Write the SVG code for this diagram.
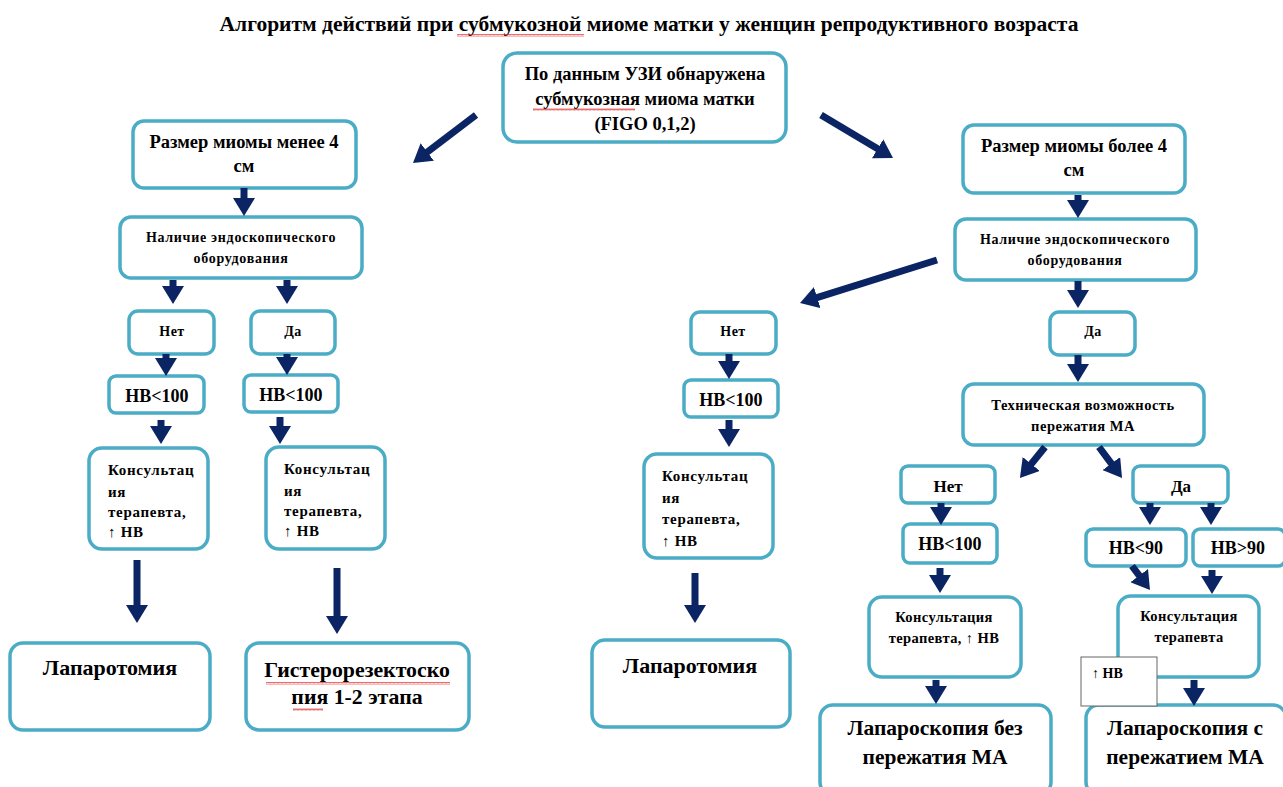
<svg xmlns="http://www.w3.org/2000/svg" width="1283" height="787" viewBox="0 0 1283 787">
<style>
.b{fill:#fff;stroke:#4BACC6;stroke-width:3.5}
.t{font-family:"Liberation Serif","Times New Roman",serif;font-weight:bold;fill:#000}
.c{text-anchor:middle}
.a{stroke:#0B2463;stroke-width:7;fill:none}
</style>
<defs>
<marker id="h" markerUnits="userSpaceOnUse" markerWidth="18" markerHeight="22" refX="2" refY="11" orient="auto" viewBox="0 0 18 22">
<path d="M0,0 L18,11 L0,22 Z" fill="#0B2463"/>
</marker>
<pattern id="wv" width="4" height="3" patternUnits="userSpaceOnUse">
<path d="M0,2.5 L1,0.5 L2,2.5 L3,0.5 L4,2.5" fill="none" stroke="#E03030" stroke-width="0.7"/>
</pattern>
</defs>

<text class="t c" x="649" y="31" font-size="21.5">Алгоритм действий при субмукозной миоме матки у женщин репродуктивного возраста</text>
<rect x="457" y="34" width="127" height="3" fill="url(#wv)"/>

<g id="n-top"><rect class="b" x="503" y="53" width="283" height="89" rx="14"/>
<text class="t c" font-size="18.5"><tspan x="645" y="80">По данным УЗИ обнаружена</tspan><tspan x="645" y="105">субмукозная миома матки</tspan><tspan x="645" y="130">(FIGO 0,1,2)</tspan></text>
<rect x="533" y="108" width="102" height="3" fill="url(#wv)"/></g>

<g id="n-less4"><rect class="b" x="133" y="121" width="223" height="67" rx="11"/>
<text class="t c" font-size="18.5"><tspan x="244" y="148">Размер миомы менее 4</tspan><tspan x="244" y="172">см</tspan></text></g>

<g id="n-more4"><rect class="b" x="963" y="125" width="222" height="68" rx="11"/>
<text class="t c" font-size="18.5"><tspan x="1074" y="152">Размер миомы более 4</tspan><tspan x="1074" y="176">см</tspan></text></g>

<g id="n-endo-l"><rect class="b" x="120" y="217" width="242" height="61" rx="11"/>
<text class="t c" font-size="14" letter-spacing="0.7"><tspan x="241" y="242">Наличие эндоскопического</tspan><tspan x="241" y="263">оборудования</tspan></text></g>

<g id="n-net-l"><rect class="b" x="129" y="311" width="85" height="43" rx="9"/>
<text class="t c" font-size="14" letter-spacing="0.5" x="172" y="336">Нет</text></g>
<g id="n-da-l"><rect class="b" x="251" y="311" width="84" height="43" rx="9"/>
<text class="t c" font-size="14" letter-spacing="0.5" x="293" y="336">Да</text></g>

<g id="n-hb-l1"><rect class="b" x="109" y="376" width="95" height="37" rx="7"/>
<text class="t c" font-size="18" x="157" y="402">НВ&lt;100</text></g>
<g id="n-hb-l2"><rect class="b" x="244" y="375" width="94" height="37" rx="7"/>
<text class="t c" font-size="18" x="291" y="401">НВ&lt;100</text></g>

<g id="n-cons-l1"><rect class="b" x="89" y="448" width="119" height="101" rx="13"/>
<text class="t" font-size="15" letter-spacing="0.7"><tspan x="108" y="475">Консультац</tspan><tspan x="108" y="497">ия</tspan><tspan x="108" y="517">терапевта,</tspan><tspan x="108" y="537">↑ НВ</tspan></text></g>
<g id="n-cons-l2"><rect class="b" x="266" y="447" width="119" height="102" rx="13"/>
<text class="t" font-size="15" letter-spacing="0.7"><tspan x="284" y="474">Консультац</tspan><tspan x="284" y="496">ия</tspan><tspan x="284" y="516">терапевта,</tspan><tspan x="284" y="536">↑ НВ</tspan></text></g>

<g id="n-lapt-l"><rect class="b" x="10" y="643" width="200" height="87" rx="13"/>
<text class="t c" font-size="22" x="110" y="675">Лапаротомия</text></g>
<g id="n-hyst"><rect class="b" x="246" y="643" width="223" height="87" rx="13"/>
<text class="t c" font-size="21.8"><tspan x="357" y="677">Гистерорезектоско</tspan><tspan x="357" y="704">пия 1-2 этапа</tspan></text>
<rect x="266" y="682" width="184" height="3" fill="url(#wv)"/><rect x="293" y="708" width="30" height="3" fill="url(#wv)"/></g>

<g id="n-endo-r"><rect class="b" x="955" y="219" width="241" height="61" rx="11"/>
<text class="t c" font-size="14" letter-spacing="0.7"><tspan x="1075" y="244">Наличие эндоскопического</tspan><tspan x="1075" y="265">оборудования</tspan></text></g>

<g id="n-net-m"><rect class="b" x="691" y="312" width="85" height="42" rx="9"/>
<text class="t c" font-size="14" letter-spacing="0.5" x="733" y="336">Нет</text></g>
<g id="n-hb-m"><rect class="b" x="684" y="380" width="94" height="37" rx="7"/>
<text class="t c" font-size="18" x="731" y="406">НВ&lt;100</text></g>
<g id="n-cons-m"><rect class="b" x="644" y="454" width="129" height="104" rx="13"/>
<text class="t" font-size="15" letter-spacing="0.7"><tspan x="662" y="481">Консультац</tspan><tspan x="662" y="503">ия</tspan><tspan x="662" y="524">терапевта,</tspan><tspan x="662" y="546">↑ НВ</tspan></text></g>
<g id="n-lapt-m"><rect class="b" x="592" y="640" width="198" height="87" rx="13"/>
<text class="t c" font-size="22" x="690" y="673">Лапаротомия</text></g>

<g id="n-da-r"><rect class="b" x="1050" y="312" width="85" height="43" rx="9"/>
<text class="t c" font-size="14" letter-spacing="0.5" x="1093" y="336">Да</text></g>
<g id="n-tech"><rect class="b" x="963" y="384" width="241" height="61" rx="11"/>
<text class="t c" font-size="14.5" letter-spacing="0.5"><tspan x="1083" y="410">Техническая возможность</tspan><tspan x="1083" y="431">пережатия МА</tspan></text></g>

<g id="n-net-r"><rect class="b" x="901" y="466" width="94" height="37" rx="7"/>
<text class="t c" font-size="17" x="948" y="492">Нет</text></g>
<g id="n-da-r2"><rect class="b" x="1133" y="466" width="95" height="37" rx="7"/>
<text class="t c" font-size="17" x="1181" y="492">Да</text></g>

<g id="n-hb-r1"><rect class="b" x="903" y="524" width="94" height="39" rx="7"/>
<text class="t c" font-size="18" x="950" y="550">НВ&lt;100</text></g>
<g id="n-hb90a"><rect class="b" x="1086" y="529" width="100" height="37" rx="7"/>
<text class="t c" font-size="18" x="1136" y="554">НВ&lt;90</text></g>
<g id="n-hb90b"><rect class="b" x="1193" y="529" width="92" height="37" rx="7"/>
<text class="t c" font-size="18" x="1238" y="554">НВ&gt;90</text></g>

<g id="n-cons-r1"><rect class="b" x="869" y="597" width="152" height="80" rx="13"/>
<text class="t c" font-size="14.5" letter-spacing="0.4"><tspan x="944" y="622">Консультация</tspan><tspan x="944" y="643">терапевта, ↑ НВ</tspan></text></g>
<g id="n-cons-r2"><rect class="b" x="1118" y="596" width="141" height="81" rx="13"/>
<text class="t c" font-size="14.5" letter-spacing="0.4"><tspan x="1189" y="621">Консультация</tspan><tspan x="1189" y="642">терапевта</tspan></text></g>

<g id="n-lapsc1"><rect class="b" x="820" y="705" width="231" height="90" rx="13"/>
<text class="t c" font-size="21.5"><tspan x="935" y="735">Лапароскопия без</tspan><tspan x="935" y="764">пережатия МА</tspan></text></g>
<g id="n-lapsc2"><rect class="b" x="1086" y="705" width="200" height="90" rx="13"/>
<text class="t c" font-size="21.5"><tspan x="1185" y="735">Лапароскопия с</tspan><tspan x="1185" y="764">пережатием МА</tspan></text></g>

<g id="n-hbnote"><rect x="1081" y="657" width="76" height="49" fill="#fff" stroke="#666" stroke-width="1"/>
<text class="t" font-size="14" x="1092" y="678">↑ НВ</text></g>

<g id="connectors">
<line class="a" x1="476" y1="115" x2="425.7" y2="153.3" marker-end="url(#h)"/>
<line class="a" x1="821" y1="115" x2="879.3" y2="149.8" marker-end="url(#h)"/>
<line class="a" x1="244" y1="188" x2="244" y2="200" marker-end="url(#h)"/>
<line class="a" x1="173" y1="280" x2="173" y2="288" marker-end="url(#h)"/>
<line class="a" x1="287" y1="280" x2="287" y2="288" marker-end="url(#h)"/>
<line class="a" x1="166" y1="354" x2="166" y2="360" marker-end="url(#h)"/>
<line class="a" x1="287" y1="354" x2="287" y2="359" marker-end="url(#h)"/>
<line class="a" x1="161" y1="420" x2="161" y2="428" marker-end="url(#h)"/>
<line class="a" x1="280" y1="417" x2="280" y2="428" marker-end="url(#h)"/>
<line class="a" x1="137" y1="560" x2="137" y2="607" marker-end="url(#h)"/>
<line class="a" x1="337" y1="568" x2="337" y2="618" marker-end="url(#h)"/>
<line class="a" x1="1078" y1="195" x2="1078" y2="202" marker-end="url(#h)"/>
<line class="a" x1="937" y1="260" x2="815.3" y2="298.2" marker-end="url(#h)"/>
<line class="a" x1="729" y1="354" x2="729" y2="363" marker-end="url(#h)"/>
<line class="a" x1="729" y1="420" x2="729" y2="431" marker-end="url(#h)"/>
<line class="a" x1="695" y1="573" x2="695" y2="607" marker-end="url(#h)"/>
<line class="a" x1="1078" y1="281" x2="1078" y2="292" marker-end="url(#h)"/>
<line class="a" x1="1078" y1="355" x2="1078" y2="366" marker-end="url(#h)"/>
<line class="a" x1="1045" y1="447" x2="1030" y2="465.5" marker-end="url(#h)"/>
<line class="a" x1="1099" y1="447" x2="1112.5" y2="465.2" marker-end="url(#h)"/>
<line class="a" x1="941" y1="503" x2="941" y2="509" marker-end="url(#h)"/>
<line class="a" x1="1150" y1="503" x2="1150" y2="509" marker-end="url(#h)"/>
<line class="a" x1="1211" y1="503" x2="1211" y2="509" marker-end="url(#h)"/>
<line class="a" x1="940" y1="568" x2="940" y2="577" marker-end="url(#h)"/>
<line class="a" x1="1132" y1="566" x2="1140.4" y2="577.2" marker-end="url(#h)"/>
<line class="a" x1="1212" y1="570" x2="1212" y2="578" marker-end="url(#h)"/>
<line class="a" x1="936" y1="680" x2="936" y2="688" marker-end="url(#h)"/>
<line class="a" x1="1194" y1="680" x2="1194" y2="690" marker-end="url(#h)"/>
</g>
</svg>
